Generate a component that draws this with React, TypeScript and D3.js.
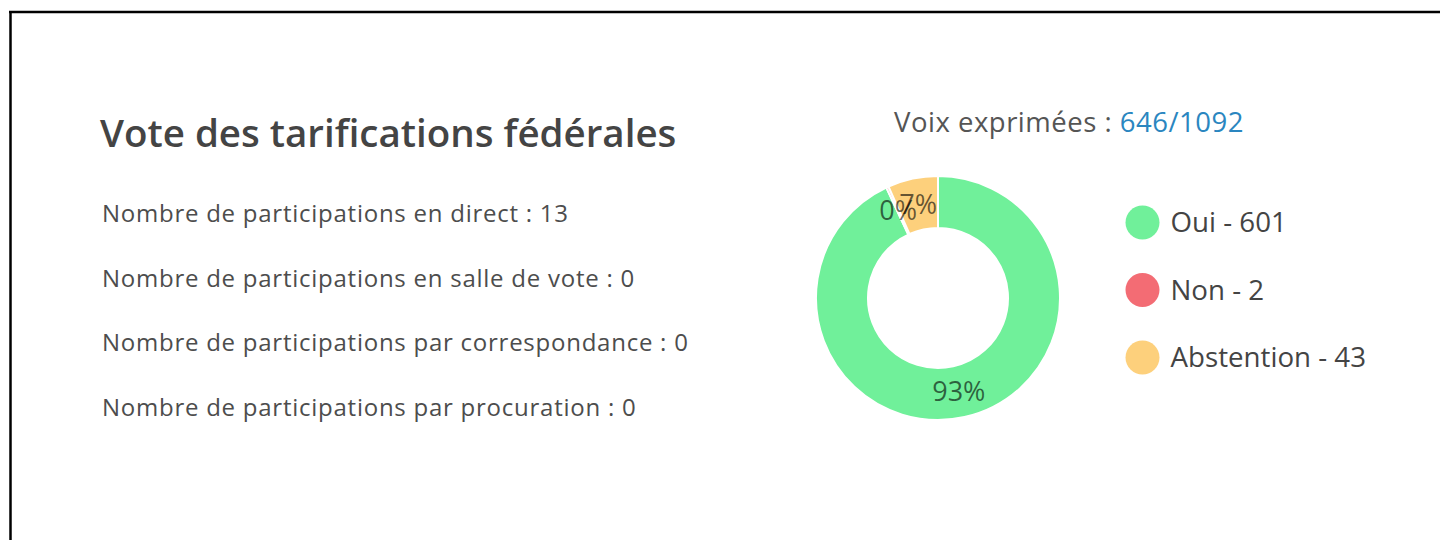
import React, { useEffect, useRef } from "react";
import * as d3 from "d3";

// vote data
const voteLabels = ["Oui", "Non", "Abstention"];
const voteValues = [601, 2, 43];
const voteColors = ["#70f09a", "#f36c74", "#fdd07c"];

const totalVoters = 1092;

const participationLabels = [
  "Nombre de participations en direct",
  "Nombre de participations en salle de vote",
  "Nombre de participations par correspondance",
  "Nombre de participations par procuration",
];
const participationValues = [13, 0, 0, 0];

const title = "Vote des tarifications fédérales";

const App = () => {
  const ref = useRef<SVGSVGElement>(null);

  useEffect(() => {
    const width = 1440;
    const height = 540;
    const font = "'Open Sans', 'Noto Sans', sans-serif";

    const svg = d3.select(ref.current);
    svg.selectAll("*").remove();
    svg.attr("width", width).attr("height", height).style("font-family", font);

    svg.append("rect").attr("width", width).attr("height", height).attr("fill", "#fff");

    // frame (only top and left edges show)
    svg
      .append("line")
      .attr("x1", 9)
      .attr("x2", width)
      .attr("y1", 12)
      .attr("y2", 12)
      .attr("stroke", "#000")
      .attr("stroke-width", 2.5);
    svg
      .append("line")
      .attr("x1", 10.5)
      .attr("x2", 10.5)
      .attr("y1", 11)
      .attr("y2", height)
      .attr("stroke", "#000")
      .attr("stroke-width", 2.5);

    // left text block
    svg
      .append("text")
      .attr("x", 100)
      .attr("y", 147)
      .attr("font-size", 38.5)
      .attr("font-weight", 600)
      .attr("fill", "#444")
      .text(title);

    svg
      .selectAll(".part")
      .data(participationLabels)
      .enter()
      .append("text")
      .attr("class", "part")
      .attr("x", 102)
      .attr("y", (d, i) => 222 + i * 64.5)
      .attr("font-size", 24)
      .attr("letter-spacing", 0.75)
      .attr("fill", "#4d4d4d")
      .text((d, i) => `${d} : ${participationValues[i]}`);

    // header above donut
    const total = d3.sum(voteValues);
    const header = svg
      .append("text")
      .attr("x", 1069)
      .attr("y", 132)
      .attr("text-anchor", "middle")
      .attr("font-size", 27.5)
      .attr("letter-spacing", 0.5)
      .attr("fill", "#555");
    header.append("tspan").text("Voix exprimées : ");
    header.append("tspan").attr("fill", "#2a86c0").text(`${total}/${totalVoters}`);

    // donut
    const cx = 938;
    const cy = 298;
    const outer = 122;
    const inner = 70;

    const pie = d3
      .pie<number>()
      .sort(null)
      .value((d) => d);
    const arcs = pie(voteValues);
    const arc = d3.arc<d3.PieArcDatum<number>>().innerRadius(inner).outerRadius(outer);

    const g = svg.append("g").attr("transform", `translate(${cx},${cy})`);
    g.selectAll("path")
      .data(arcs)
      .enter()
      .append("path")
      .attr("d", arc)
      .attr("fill", (d, i) => voteColors[i])
      .attr("stroke", "#fff")
      .attr("stroke-width", 2);

    const pct = d3.format(".0%");
    g.selectAll(".lbl")
      .data(arcs)
      .enter()
      .append("text")
      .attr("class", "lbl")
      .attr("transform", (d) => `translate(${arc.centroid(d)})`)
      .attr("text-anchor", "middle")
      .attr("dy", "0.35em")
      .attr("font-size", 27)
      .attr("fill", "rgba(0,0,0,0.6)")
      .text((d) => pct(d.value / total));

    // legend
    const legend = svg
      .selectAll(".leg")
      .data(voteLabels)
      .enter()
      .append("g")
      .attr("class", "leg")
      .attr("transform", (d, i) => `translate(1142.5,${222.5 + i * 67.5})`);
    legend
      .append("circle")
      .attr("r", 17)
      .attr("fill", (d, i) => voteColors[i]);
    legend
      .append("text")
      .attr("x", 28)
      .attr("dy", "0.35em")
      .attr("font-size", 27.7)
      .attr("fill", "#444")
      .text((d, i) => `${d} - ${voteValues[i]}`);
  }, []);

  return (
    <div style={{ position: "absolute", left: 0, top: 0 }}>
      <svg ref={ref} style={{ display: "block" }}></svg>
    </div>
  );
};

export default App;
